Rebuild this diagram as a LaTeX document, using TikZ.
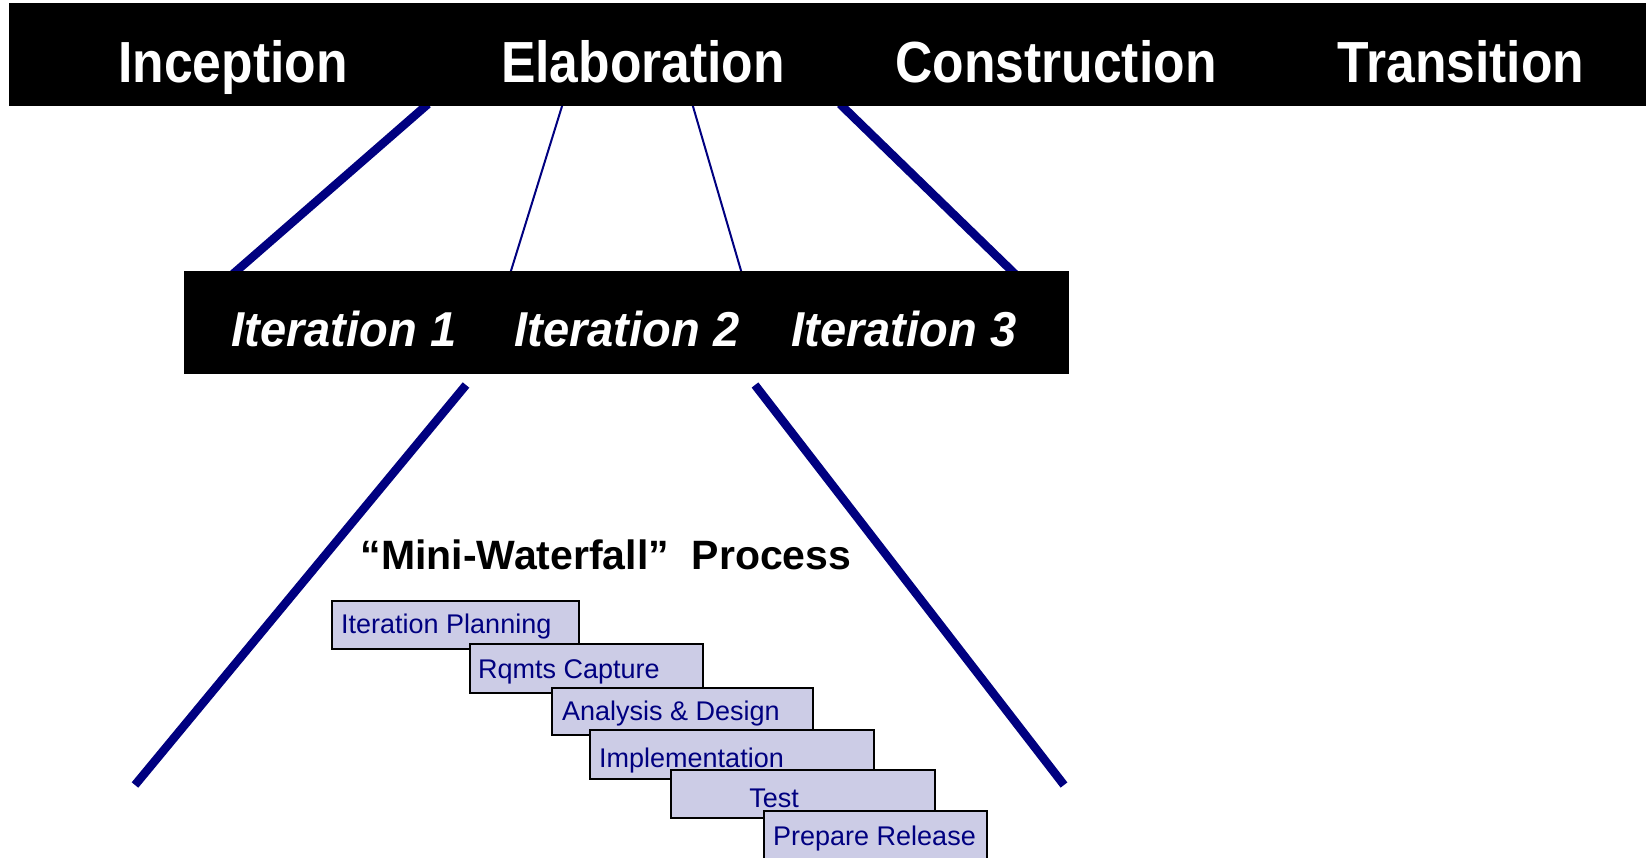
\documentclass[tikz,border=0pt]{standalone}
\usepackage{fontspec}
\setmainfont{Liberation Sans}
\newfontfamily\hdrfont[FakeStretch=0.89]{Liberation Sans}
\newfontfamily\itfont[FakeStretch=0.96]{Liberation Sans}
\usetikzlibrary{calc}
\definecolor{navyc}{RGB}{0,0,128}
\definecolor{boxfill}{RGB}{204,204,230}
\begin{document}
\begin{tikzpicture}[x=1pt,y=-1pt,
  bar/.style={fill=black,draw=none,inner sep=0pt,anchor=north west},
  hdr/.style={text=white,font=\hdrfont\fontsize{58}{60}\selectfont\bfseries,anchor=base,inner sep=0pt},
  itr/.style={text=white,font=\itfont\fontsize{49}{51}\selectfont\bfseries\itshape,anchor=base,inner sep=0pt},
  thick line/.style={draw=navyc,line width=8.5pt},
  thin line/.style={draw=navyc,line width=2pt},
  wbox/.style={fill=boxfill,draw=black,line width=1.8pt,inner sep=0pt,anchor=north west},
  wtext/.style={text=navyc,font=\fontsize{27}{29}\selectfont,inner sep=0pt,anchor=base west},
]
\useasboundingbox (0,0) rectangle (1646,857);
\fill[white] (0,0) rectangle (1646,857);

% connector end points
\coordinate (a1) at (428,104);
\coordinate (a2) at (233,274);
\coordinate (b1) at (563,103);
\coordinate (b2) at (510,274);
\coordinate (c1) at (692,103);
\coordinate (c2) at (742,274);
\coordinate (d1) at (840,104);
\coordinate (d2) at (1015,274);
\coordinate (e1) at (466,385);
\coordinate (e2) at (135,785);
\coordinate (f1) at (755,385);
\coordinate (f2) at (1064,785);

\draw[thick line] (a1) -- (a2);
\draw[thin line] (b1) -- (b2);
\draw[thin line] (c1) -- (c2);
\draw[thick line] (d1) -- (d2);
\draw[thick line] (e1) -- (e2);
\draw[thick line] (f1) -- (f2);

% phase bar
\node[bar,minimum width=1640pt,minimum height=103pt] (phases) at (9,3) {};
\node[hdr] (inc) at (233,82) {Inception};
\node[hdr] (ela) at (643,82) {Elaboration};
\node[hdr] (con) at (1056,82) {Construction};
\node[hdr] (tra) at (1461,82) {Transition};

% iteration bar
\node[bar,minimum width=885pt,minimum height=103pt] (iters) at (184,271) {};
\node[itr] (it1) at (344,346) {Iteration 1};
\node[itr] (it2) at (627,346) {Iteration 2};
\node[itr] (it3) at (904,346) {Iteration 3};

% title
\node[font=\fontsize{41}{43}\selectfont\bfseries,anchor=base,inner sep=0pt] (title) at (606,569) {“Mini-Waterfall”\ \ Process};

% waterfall boxes
\node[wbox,minimum width=247pt,minimum height=48pt] (w1) at (331,600) {};
\node[wtext] (t1) at (341,633) {Iteration Planning};
\node[wbox,minimum width=233pt,minimum height=49pt] (w2) at (469,643) {};
\node[wtext] (t2) at (478,678) {Rqmts Capture};
\node[wbox,minimum width=261pt,minimum height=47pt] (w3) at (551,687) {};
\node[wtext] (t3) at (562,720) {Analysis \& Design};
\node[wbox,minimum width=284pt,minimum height=49pt] (w4) at (589,729) {};
\node[wtext] (t4) at (599,767) {Implementation};
\node[wbox,minimum width=264pt,minimum height=48pt] (w5) at (670,769) {};
\node[wtext,anchor=base] (t5) at (774,807) {Test};
\node[wbox,minimum width=223pt,minimum height=52pt] (w6) at (763,810) {};
\node[wtext] (t6) at (773,845) {Prepare Release};
\end{tikzpicture}
\end{document}
